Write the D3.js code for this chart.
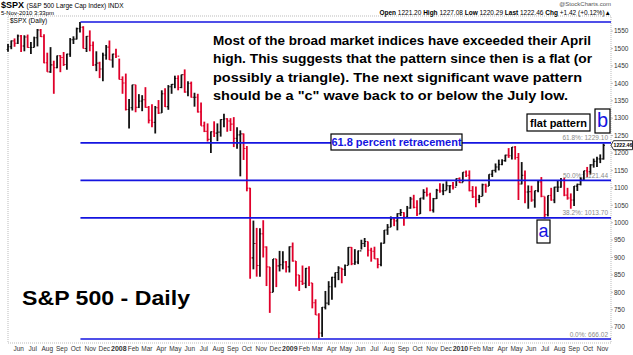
<!DOCTYPE html>
<html><head><meta charset="utf-8">
<script src="https://cdn.jsdelivr.net/npm/d3@7"></script>
<style>body{margin:0;background:#fff}svg{display:block;font-family:"Liberation Sans",Arial,sans-serif}</style>
</head><body>
<svg id="c" width="633" height="355"></svg>
<script>
// ---- weekly S&P 500 bars (week ending Fridays, starting 2007-05-11) ----
const firstWeekEnd = "2007-05-11";
const highs2007 = [1513,1523,1529, 1540,1539,1538,1540,1519, 1534,1556,1556,1541, 1488,1504,1465,1480,1481, 1490,1485,1530,1535, 1560,1576,1564,1536, 1552,1520,1492,1462,1488, 1510,1523,1485,1499];
const lows2007  = [1491,1498,1505, 1513,1490,1492,1502,1484, 1503,1506,1533,1458, 1433,1430,1370,1443,1432, 1450,1439,1476,1513, 1526,1546,1500,1490, 1492,1450,1435,1415,1406, 1468,1467,1445,1473];
const closes2007= [1505,1522,1515, 1536,1507,1533,1503,1503, 1531,1553,1534,1459, 1433,1453,1445,1479,1474, 1454,1484,1525,1527, 1557,1561,1500,1535, 1509,1453,1458,1441,1481, 1504,1467,1484,1478];
const highs2008 = [1471,1420,1428,1355, 1396,1396,1369,1366,1389, 1335,1340,1335,1352, 1380,1386,1395,1398, 1422,1423,1425,1440,1406, 1405,1373,1370,1345, 1290,1285,1262,1291, 1285,1297,1313,1300,1300, 1303,1274,1265,1256, 1220,1100,1006,985,984, 1007,932,873,896, 896,919,918,890];
const lows2008  = [1411,1370,1322,1270, 1322,1317,1329,1320,1330, 1285,1274,1256,1312, 1315,1332,1324,1370, 1386,1380,1386,1373,1363, 1359,1333,1316,1278, 1260,1233,1200,1246, 1234,1247,1274,1261,1263, 1217,1212,1133,1180, 1090,839,866,845,845, 900,818,741,800, 815,860,866,857];
const closes2008= [1411,1401,1325,1330, 1396,1331,1349,1353,1331, 1294,1288,1330,1315, 1370,1333,1390,1397, 1414,1388,1425,1375,1400, 1360,1360,1318,1278, 1262,1239,1261,1257, 1260,1296,1298,1292,1283, 1242,1252,1255,1213, 1099,899,940,877,968, 930,873,800,896, 876,879,887,873];
const highs2009 = [932,943,890,850,877, 870,875,827,780, 740,758,804,832, 845,857,875,870, 880,930,930,924,920, 951,956,946,928, 931,898,943,979,996, 1018,1013,1027,1039, 1030,1048,1074,1080, 1064,1071,1096,1101,1086, 1071,1097,1113,1112, 1119,1107,1117,1127];
const lows2009  = [857,888,817,804,821, 812,818,754,735, 667,672,751,763, 779,814,835,826, 847,878,878,879,881, 923,930,903,888, 896,869,875,940,965, 987,990,978,1019, 991,1016,1040,1041, 1019,1025,1066,1075,1033, 1029,1068,1086,1079, 1093,1085,1095,1105];
const closes2009= [931,890,850,832,826, 869,827,770,735, 683,757,769,816, 843,857,870,866, 877,929,882,887,919, 940,946,921,918, 896,880,941,979,987, 1010,1005,1026,1029, 1016,1042,1068,1044, 1025,1071,1087,1080,1036, 1069,1093,1091,1092, 1106,1106,1102,1127];
const highs2010 = [1130,1145,1150,1150,1105, 1104,1080,1112,1112, 1139,1151,1170,1181, 1182,1195,1214,1217,1220, 1200,1174,1150,1107, 1106,1092,1122,1131, 1075,1078,1100,1103,1120, 1128,1129,1100,1084, 1105,1112,1131,1149, 1160,1168,1184,1189,1196, 1227];
const lows2010  = [1114,1116,1131,1090,1071, 1044,1056,1076,1086, 1105,1131,1144,1150, 1165,1175,1186,1181,1181, 1065,1110,1056,1040, 1060,1043,1087,1073, 1011,1018,1063,1056,1088, 1100,1076,1066,1040, 1048,1091,1107,1122, 1131,1138,1158,1160,1171, 1181];
const closes2010= [1115,1145,1136,1092,1074, 1066,1075,1109,1105, 1139,1150,1160,1167, 1178,1194,1192,1217,1187, 1111,1136,1088,1089, 1065,1092,1117,1076, 1023,1078,1065,1102,1102, 1122,1079,1071,1065, 1105,1110,1125,1149, 1146,1166,1176,1183,1183, 1222];
const firstOpen = 1497;

// ---- Fibonacci retracement ----
const fibStartDate = "2007-10-11";
const fibLevels = [1576.09, 1229.10, 1121.44, 1013.70, 666.02];
const fibLabels = ["", "61.8%: 1229.10", "50.0%: 1121.44", "38.2%: 1013.70", "0.0%: 666.02"];

// ---- axes ----
const yTicks = [700,750,800,850,900,950,1000,1050,1100,1150,1200,1250,1300,1350,1400,1450,1500,1550];
const monthNames = ["Jan","Feb","Mar","Apr","May","Jun","Jul","Aug","Sep","Oct","Nov","Dec"];
const lastPrice = 1222.46;

// ---- texts ----
const noteLines = [
  "Most of the broad market indices have exceeded their April",
  "high.  This suggests that the pattern since then is a flat (or",
  "possibly a triangle).  The next significant wave pattern",
  "should be a \"c\" wave back to or below the July low."
];
const noteWidths = [378, 379, 369, 355];

const highs = [...highs2007, ...highs2008, ...highs2009, ...highs2010];
const lows = [...lows2007, ...lows2008, ...lows2009, ...lows2010];
const closes = [...closes2007, ...closes2008, ...closes2009, ...closes2010];

const DAY = 86400000;
const t0 = new Date(firstWeekEnd + "T00:00:00Z").getTime();
const bars = closes.map((c, i) => {
  const fri = new Date(t0 + i * 7 * DAY);
  return {fri, mon: new Date(fri.getTime() - 4 * DAY), mid: new Date(fri.getTime() - 2 * DAY),
    h: highs[i], l: lows[i], c, o: i === 0 ? firstOpen : closes[i - 1]};
});

const svg = d3.select("#c");
const L = 8, R = 611, T = 16, B = 343;
const x = d3.scaleUtc().domain([new Date("2007-05-09T00:00:00Z"), new Date("2010-11-19T00:00:00Z")]).range([L, R]);
const y = d3.scaleLinear().domain([666.02, 1576.09]).range([339, 22]);

// frame
svg.append("rect").attr("x", L).attr("y", T).attr("width", R - L).attr("height", B - T)
  .attr("fill", "none").attr("stroke", "#aaa").attr("stroke-width", 0.8).attr("stroke-dasharray", "1,1");

// bars
const gb = svg.append("g");
bars.forEach((b, i) => {
  const col = (i > 0 && b.c < closes[i - 1]) ? "#e0002a" : "#111";
  const xm = x(b.mid), xl = x(b.mon) - 0.4, xr = x(b.fri) + 0.4;
  gb.append("line").attr("x1", xm).attr("x2", xm).attr("y1", y(b.h)).attr("y2", y(b.l))
    .attr("stroke", col).attr("stroke-width", 1.8);
  gb.append("line").attr("x1", xl).attr("x2", xm).attr("y1", y(b.o)).attr("y2", y(b.o))
    .attr("stroke", col).attr("stroke-width", 1.1);
  gb.append("line").attr("x1", xm).attr("x2", xr).attr("y1", y(b.c)).attr("y2", y(b.c))
    .attr("stroke", col).attr("stroke-width", 1.1);
});

// fib lines
const fx = x(new Date(fibStartDate + "T00:00:00Z"));
fibLevels.forEach((v, i) => {
  svg.append("line").attr("x1", fx).attr("x2", R).attr("y1", y(v)).attr("y2", y(v))
    .attr("stroke", "#1414e0").attr("stroke-width", 1.6);
  if (fibLabels[i]) svg.append("text").attr("x", R - 3).attr("y", y(v) - 2.5).attr("text-anchor", "end")
    .attr("font-size", 6.5).attr("fill", "#8a8a8a").text(fibLabels[i]);
});

// right axis
svg.append("g").selectAll("text").data(yTicks).join("text")
  .attr("x", R + 3).attr("y", d => y(d) + 2.3).attr("font-size", 6.5).attr("fill", "#333").text(d => d);
svg.append("g").selectAll("line").data(yTicks).join("line")
  .attr("x1", R).attr("x2", R + 2).attr("y1", d => y(d)).attr("y2", d => y(d)).attr("stroke", "#999").attr("stroke-width", 0.6);

// last price tag
const ly = y(lastPrice);
svg.append("path").attr("d", `M${R},${ly} L${R+2.5},${ly-4.5} L${R+21.5},${ly-4.5} L${R+21.5},${ly+4.5} L${R+2.5},${ly+4.5} Z`)
  .attr("fill", "#fff").attr("stroke", "#000").attr("stroke-width", 0.8);
svg.append("text").attr("x", R + 2.6).attr("y", ly + 2).attr("font-size", 5.2).attr("font-weight", "bold")
  .attr("fill", "#000").text(lastPrice.toFixed(2));

// bottom axis months
const months = d3.utcMonth.range(new Date("2007-06-01T00:00:00Z"), new Date("2010-11-02T00:00:00Z"));
svg.append("g").selectAll("text").data(months).join("text")
  .attr("x", d => x(d)).attr("y", 351).attr("text-anchor", "middle")
  .attr("font-size", d => d.getUTCMonth() === 0 ? 7 : 6.5)
  .attr("font-weight", d => d.getUTCMonth() === 0 ? "bold" : "normal").attr("fill", "#333")
  .text(d => d.getUTCMonth() === 0 ? d.getUTCFullYear() : monthNames[d.getUTCMonth()]);

// header
const h1 = svg.append("text").attr("x", 1).attr("y", 8).attr("fill", "#000");
h1.append("tspan").attr("font-size", 9).attr("font-weight", "bold").text("$SPX ");
h1.append("tspan").attr("font-size", 6.5).text("(S&P 500 Large Cap Index) INDX");
svg.append("text").attr("x", 1).attr("y", 14.5).attr("font-size", 6).attr("fill", "#000").text("5-Nov-2010 3:33pm");
svg.append("text").attr("x", 10).attr("y", 23).attr("font-size", 6.5).attr("fill", "#000").text("$SPX (Daily)");
svg.append("text").attr("x", 611).attr("y", 6).attr("text-anchor", "end").attr("font-size", 6).attr("fill", "#555").text("@StockCharts.com");
const hq = svg.append("text").attr("x", 611).attr("y", 14.5).attr("text-anchor", "end").attr("font-size", 6.5).attr("fill", "#000");
[["Open", " 1221.20 "], ["High", " 1227.08 "], ["Low", " 1220.29 "], ["Last", " 1222.46 "], ["Chg", " +1.42 (+0.12%)\u25B2"]].forEach(([k, v]) => {
  hq.append("tspan").attr("font-weight", "bold").text(k);
  hq.append("tspan").text(v);
});

// note text
noteLines.forEach((s, i) => {
  svg.append("text").attr("x", 213).attr("y", 45 + i * 18.3).attr("font-size", 13).attr("font-weight", "bold")
    .attr("fill", "#000").attr("textLength", noteWidths[i]).attr("lengthAdjust", "spacingAndGlyphs").text(s);
});

// boxes
function box(bx, by, bw, bh, txt, col, fs, bold, ty) {
  svg.append("rect").attr("x", bx).attr("y", by).attr("width", bw).attr("height", bh)
    .attr("fill", "#fff").attr("stroke", "#000").attr("stroke-width", 1.2);
  svg.append("text").attr("x", bx + bw / 2).attr("y", ty).attr("text-anchor", "middle")
    .attr("font-size", fs).attr("font-weight", bold ? "bold" : "normal").attr("fill", col).text(txt);
}
box(331, 134, 131, 16, "61.8 percent retracement", "#1414e0", 11, true, 146);
box(527, 114, 63, 17, "flat pattern", "#000", 11, true, 126.5);
box(595, 109, 15, 24, "b", "#1414e0", 20, false, 127);
box(537, 220, 13, 23, "a", "#1414e0", 18, false, 237);

svg.append("text").attr("x", 22).attr("y", 305).attr("font-size", 21).attr("font-weight", "bold")
  .attr("fill", "#000").attr("textLength", 168).attr("lengthAdjust", "spacingAndGlyphs").text("S&P 500 - Daily");
</script>
</body></html>
